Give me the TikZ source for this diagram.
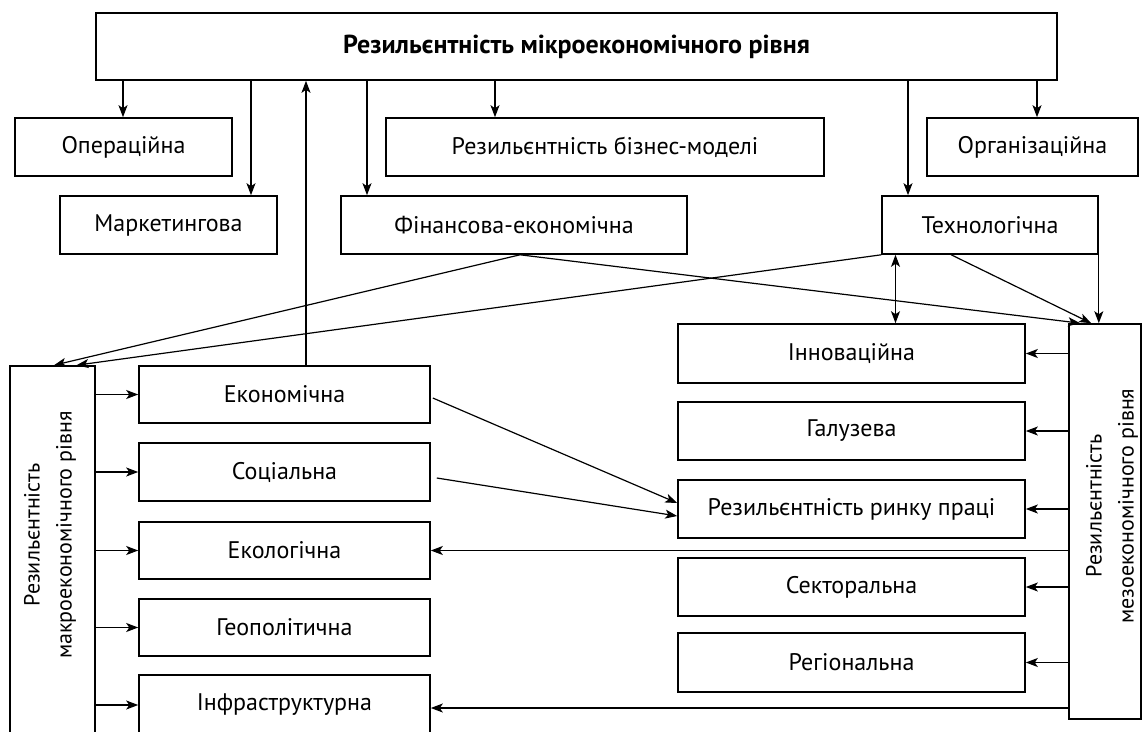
\documentclass[tikz,border=0pt]{standalone}
\usepackage{fontspec}
\setmainfont{PT Sans}
\usetikzlibrary{arrows.meta}
\begin{document}
\begin{tikzpicture}[x=1pt,y=-1pt,
  box/.style={draw, line width=1.6pt, inner sep=0pt, font=\fontsize{24}{28}\selectfont},
  lbl/.style={inner sep=0pt, align=center, rotate=90, font=\fontsize{22}{32}\selectfont},
  tip/.tip={Stealth[length=12pt,width=9pt,inset=3pt]},
  conn/.style={line width=1.2pt, -tip},
  conn2/.style={line width=1.2pt, tip-tip}]
\useasboundingbox (0,0) rectangle (1143,731);
\begin{scope}
\clip (0,0) rectangle (1143,731);
% top
\node[box, minimum width=961pt, minimum height=67pt, font=\bfseries\fontsize{26}{30}\selectfont] (top) at (576.5,46.5) {Резильєнтність мікроекономічного рівня};
% row 1
\node[box, minimum width=217pt, minimum height=58pt] (op) at (123.5,147) {Операційна};
\node[box, minimum width=438pt, minimum height=58pt] (biz) at (605,147) {Резильєнтність бізнес-моделі};
\node[box, minimum width=211pt, minimum height=58pt] (org) at (1032.5,147) {Організаційна};
% row 2
\node[box, minimum width=217pt, minimum height=58pt] (mkt) at (168.5,225) {Маркетингова};
\node[box, minimum width=346pt, minimum height=58pt] (fin) at (514,225) {Фінансова-економічна};
\node[box, minimum width=216pt, minimum height=58pt] (tech) at (990,225) {Технологічна};
% macro
\node[box, minimum width=85pt, minimum height=434pt] (macro) at (52.5,583) {};
\node[lbl] (macrot) at (50,535) {Резильєнтність\\макроекономічного рівня};
\node[box, minimum width=291pt, minimum height=57pt] (econ) at (284.5,394.5) {Економічна};
\node[box, minimum width=291pt, minimum height=58pt] (soc) at (284.5,472) {Соціальна};
\node[box, minimum width=291pt, minimum height=57pt] (ecol) at (284.5,550.5) {Екологічна};
\node[box, minimum width=291pt, minimum height=57pt] (geo) at (284.5,627.5) {Геополітична};
\node[box, minimum width=291pt, minimum height=60pt] (infra) at (284.5,705) {Інфраструктурна};
% meso
\node[box, minimum width=72pt, minimum height=395pt] (meso) at (1105,521.5) {};
\node[lbl] (mesot) at (1112,506) {Резильєнтність\\мезоекономічного рівня};
\node[box, minimum width=347pt, minimum height=59pt] (innov) at (851.5,353.5) {Інноваційна};
\node[box, minimum width=347pt, minimum height=58pt] (gal) at (851.5,431) {Галузева};
\node[box, minimum width=347pt, minimum height=58pt] (lab) at (851.5,509) {Резильєнтність ринку праці};
\node[box, minimum width=347pt, minimum height=58pt] (sect) at (851.5,587) {Секторальна};
\node[box, minimum width=347pt, minimum height=59pt] (reg) at (851.5,662.5) {Регіональна};
% coordinates
\coordinate (a1) at (123,0);
\coordinate (a2) at (251,0);
\coordinate (a3) at (306,0);
\coordinate (a4) at (367,0);
\coordinate (a5) at (495,0);
\coordinate (a6) at (908,0);
\coordinate (a7) at (1037,0);
\coordinate (d) at (895.5,0);
% top arrows
\draw[conn] (top.south -| a1) -- (op.north -| a1);
\draw[conn] (top.south -| a2) -- (mkt.north -| a2);
\draw[conn] (econ.north -| a3) -- (top.south -| a3);
\draw[conn] (top.south -| a4) -- (fin.north -| a4);
\draw[conn] (top.south -| a5) -- (biz.north -| a5);
\draw[conn] (top.south -| a6) -- (tech.north -| a6);
\draw[conn] (top.south -| a7) -- (org.north -| a7);
% macro arrows
\foreach \n in {econ,soc,ecol,geo,infra}
  \draw[conn] (macro.east |- \n.west) -- (\n.west);
% meso arrows
\foreach \n in {innov,gal,lab,sect,reg}
  \draw[conn] (meso.west |- \n.east) -- (\n.east);
\draw[conn] (meso.west |- ecol.east) -- (ecol.east);
\coordinate (i1) at ([yshift=-3pt]infra.east);
\draw[conn] (meso.west |- i1) -- (i1);
% diagonals
\draw[conn] ([xshift=6pt]fin.south) -- ([xshift=1.5pt]macro.north);
\draw[conn] ([xshift=6pt]fin.south) -- ([xshift=12pt]meso.north west);
\draw[conn] (tech.south west) -- ([xshift=24pt]macro.north);
\draw[conn] ([xshift=70pt]tech.south west) -- ([xshift=23pt]meso.north west);
\draw[conn] (tech.south east) -- (meso.north -| tech.south east);
\draw[conn2] (tech.south -| d) -- (innov.north -| d);
\draw[conn] ([xshift=2pt,yshift=-3.5pt]econ.east) -- ([yshift=6pt]lab.west);
\draw[conn] ([xshift=6pt,yshift=-6pt]soc.east) -- ([yshift=-7pt]lab.west);
\end{scope}
\end{tikzpicture}
\end{document}
